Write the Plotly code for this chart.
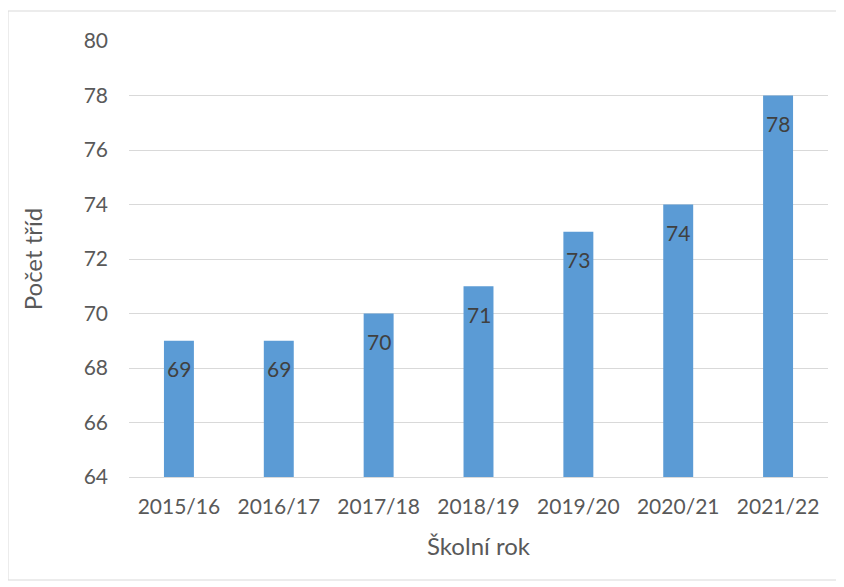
import plotly.graph_objects as go

# pocet trid podle skolniho roku
roky = ["2015/16", "2016/17", "2017/18", "2018/19", "2019/20", "2020/21", "2021/22"]
pocet_trid = [69, 69, 70, 71, 73, 74, 78]

fig = go.Figure(go.Bar(
    x=roky,
    y=pocet_trid,
    marker=dict(color="#5b9bd5", line=dict(width=0)),
    cliponaxis=False,
))

# popisky hodnot uvnitr sloupcu
for r, v in zip(roky, pocet_trid):
    fig.add_annotation(x=r, y=v, text=str(v), showarrow=False,
                       yanchor="middle", yshift=-28,
                       font=dict(color="#404040", size=21, family="Lato"))

# stranka ma okraj 8 px, proto je vse posunute
W, H = 836, 579
L, R, T, B = 121, 16, 33, 110
pw, ph = W - L - R, H - T - B

fig.update_layout(
    width=W, height=H,
    margin=dict(l=L, r=R, t=T, b=B),
    paper_bgcolor="white", plot_bgcolor="white",
    font=dict(family="Lato", size=21, color="#595959"),
    bargap=0.7,
    showlegend=False,
    xaxis=dict(
        title=dict(text="Školní rok", standoff=20, font=dict(size=24)),
        showgrid=False, showline=True, linecolor="#d9d9d9", linewidth=1,
        ticks="", tickfont=dict(size=21), ticklabelstandoff=11,
    ),
    yaxis=dict(
        title=dict(text="Počet tříd", standoff=34, font=dict(size=24)),
        range=[64, 80], dtick=2, tick0=64,
        showgrid=True, gridcolor="#d9d9d9", gridwidth=1,
        zeroline=False, ticks="", ticklabelstandoff=20,
        tickfont=dict(size=21),
    ),
    shapes=[dict(
        type="rect", xref="paper", yref="paper",
        x0=(0 - L) / pw, x1=(829 - L) / pw,
        y0=(H - B - 572) / ph, y1=(H - B - 3) / ph,
        line=dict(color="#d9d9d9", width=1), layer="below",
    )],
)

fig.write_html("out.html")
